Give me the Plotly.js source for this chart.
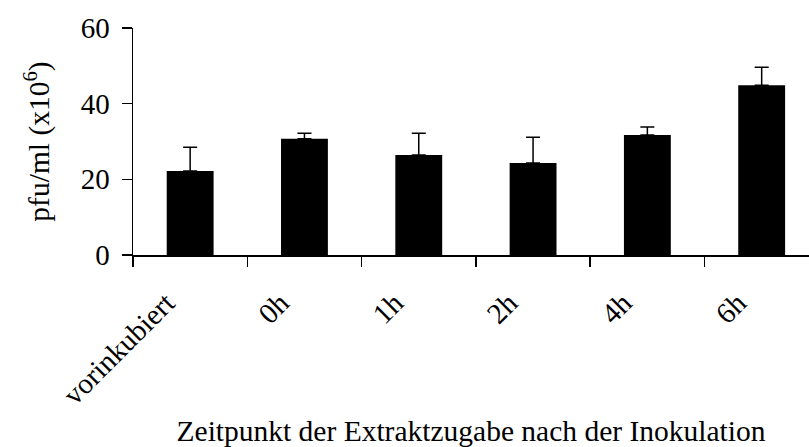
<!DOCTYPE html>
<html><head><meta charset="utf-8">
<script src="https://cdn.plot.ly/plotly-3.0.1.min.js"></script>
<style>body{margin:0;background:#fff}#c{width:809px;height:447px}</style>
</head><body><div id="c"></div>
<script>
const categories = ["vorinkubiert", "0h", "1h", "2h", "4h", "6h"];
const values = [22.2, 30.7, 26.4, 24.3, 31.7, 44.9];
const errors = [6.3, 1.5, 5.8, 6.8, 2.1, 4.7];
const yTicks = [0, 20, 40, 60];

const fam = "Liberation Serif, Times New Roman, serif";
const tickFont = {family: fam, size: 29, color: "#000"};
const titleFont = {family: fam, size: 29.5, color: "#000"};

Plotly.newPlot("c", [{
  type: "bar",
  x: categories,
  y: values,
  width: 0.41,
  marker: {color: "#000"},
  error_y: {type: "data", array: errors, symmetric: false, arrayminus: errors.map(() => 0), color: "#000", thickness: 1.5, width: 7}
}], {
  width: 809, height: 447,
  margin: {l: 133, r: 0, t: 28, b: 192},
  paper_bgcolor: "#fff", plot_bgcolor: "#fff",
  showlegend: false,
  font: tickFont,
  xaxis: {
    type: "category",
    range: [-0.5, 5.414],
    showline: true, linecolor: "#000", linewidth: 1.5,
    ticks: "outside", ticklen: 10, tickwidth: 1.5, tickcolor: "#000",
    tickson: "boundaries",
    tickangle: -45,
    tickfont: tickFont,
    ticklabelstandoff: 18,
    ticklabelshift: -24,
    showgrid: false, zeroline: false,
    title: {text: "Zeitpunkt der Extraktzugabe nach der Inokulation", font: titleFont, standoff: 24}
  },
  yaxis: {
    range: [0, 60],
    tickvals: yTicks,
    ticktext: yTicks.map(String),
    showline: true, linecolor: "#000", linewidth: 1.5,
    ticks: "outside", ticklen: 10, tickwidth: 1.5, tickcolor: "#000",
    tickfont: tickFont,
    ticklabelstandoff: 6,
    showgrid: false, zeroline: false,
    title: {text: "pfu/ml (x10<sup>6</sup>)", font: titleFont, standoff: 22}
  }
}, {staticPlot: true});
</script></body></html>
